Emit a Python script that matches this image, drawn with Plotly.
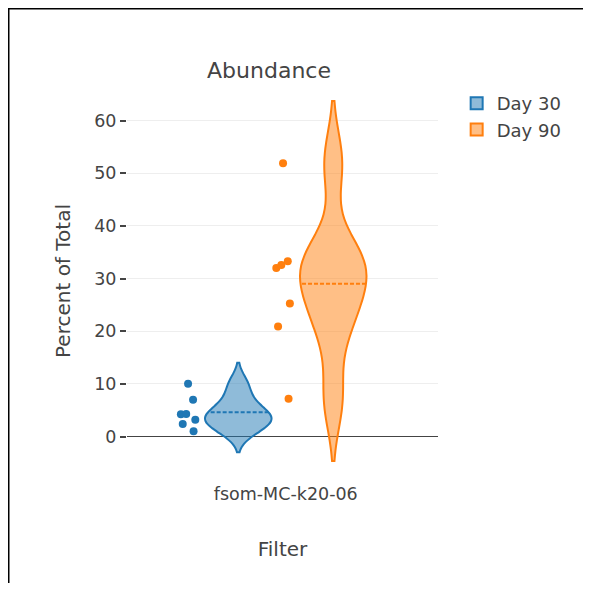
import plotly.graph_objects as go

category = "fsom-MC-k20-06"
day30 = [10.05, 7.0, 4.3, 4.25, 3.2, 2.4, 1.0]
day90 = [51.9, 33.3, 32.6, 32.0, 25.3, 20.9, 7.2]
series = [("Day 30", day30, "#1f77b4"), ("Day 90", day90, "#ff7f0e")]

W, H = 575, 575
ML, MR, MT, MB = 119, 145, 73, 102
PW, PH = W - ML - MR, H - MT - MB
FONT = "DejaVu Sans"

fig = go.Figure()
for name, vals, col in series:
    fig.add_trace(go.Violin(
        x=[category] * len(vals), y=vals, name=name,
        line=dict(color=col, width=2),
        points="all", pointpos=-1.5, jitter=0.3,
        marker=dict(color=col, size=8),
        meanline=dict(visible=True, width=2),
        box=dict(visible=False),
    ))

def px2x(p):
    return (p - ML) / PW

def py2y(p):
    return 1 - (p - MT) / PH

fig.update_layout(
    width=W, height=H,
    template="none",
    violinmode="group",
    margin=dict(l=ML, r=MR, t=MT, b=MB),
    paper_bgcolor="white", plot_bgcolor="white",
    font=dict(family=FONT, size=17, color="#444"),
    title=dict(text="Abundance", x=(269 - 8) / W, xanchor="center", xref="container",
               y=1 - 62 / H, yanchor="middle", yref="container",
               font=dict(size=22, family=FONT, color="#444")),
    xaxis=dict(title=dict(text="Filter", font=dict(size=20), standoff=39),
               showgrid=False, tickfont=dict(size=17.5), ticks="",
               range=[-0.585, 0.561]),
    yaxis=dict(title=dict(text="Percent of Total", font=dict(size=20), standoff=18),
               gridcolor="#eee", zeroline=True, zerolinecolor="#444",
               zerolinewidth=1, ticks="outside", ticklen=6, tickwidth=2,
               tickcolor="#444", tickfont=dict(size=17.5), dtick=10),
    legend=dict(font=dict(size=18), x=1.06, xanchor="left", y=0.99, yanchor="top"),
    shapes=[
        dict(type="rect", xref="paper", yref="paper", layer="above",
             x0=px2x(0.5), x1=px2x(W + 40), y0=py2y(0.5), y1=py2y(H + 40),
             line=dict(color="black", width=2), fillcolor="rgba(0,0,0,0)"),
    ],
)

fig.write_html("out.html", config={"displayModeBar": False})
